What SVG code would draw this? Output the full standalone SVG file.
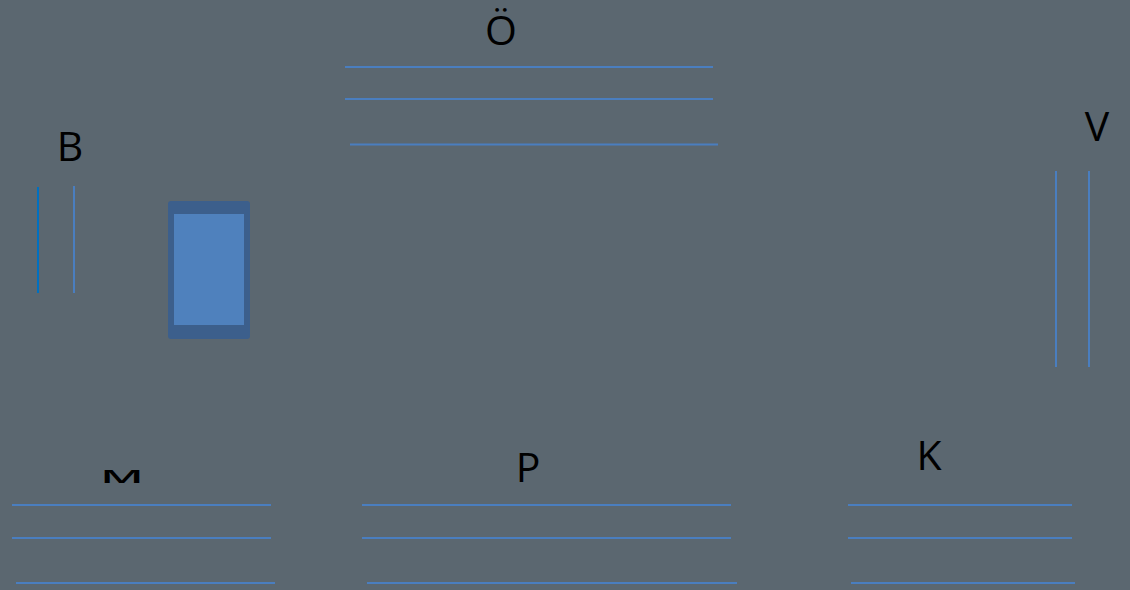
<svg xmlns="http://www.w3.org/2000/svg" width="1130" height="590" viewBox="0 0 1130 590">
  <style>
    .ln { stroke: #4a7ebf; stroke-width: 2; fill: none; }
    .lbl { font-family: "Open Sans", "Noto Sans", "Liberation Sans", sans-serif; font-size: 41px; fill: #000000; text-anchor: middle; }
  </style>
  <rect x="0" y="0" width="1130" height="590" fill="#5b6770"/>
  <g id="node-O">
    <text class="lbl" x="501" y="45">Ö</text>
    <line class="ln" x1="345" y1="67" x2="713" y2="67"/>
    <line class="ln" x1="345" y1="99" x2="713" y2="99"/>
    <line class="ln" x1="350" y1="144.5" x2="718" y2="144.5"/>
  </g>
  <g id="node-B">
    <text class="lbl" x="70" y="161">B</text>
    <line x1="38" y1="187" x2="38" y2="293" stroke="#0070c0" stroke-width="2"/>
    <line class="ln" x1="74" y1="186" x2="74" y2="293"/>
  </g>
  <g id="node-rect">
    <rect x="168" y="201" width="82" height="138" rx="3" fill="#3c5f8c"/>
    <rect x="174" y="214" width="70" height="111" fill="#4f81bd"/>
  </g>
  <g id="node-V">
    <text class="lbl" x="1097" y="141">V</text>
    <line class="ln" x1="1056" y1="171" x2="1056" y2="367"/>
    <line class="ln" x1="1089" y1="171" x2="1089" y2="367"/>
  </g>
  <g id="node-M">
    <text class="lbl" transform="translate(122,483) scale(1.15,0.45)" x="0" y="0" font-weight="600">M</text>
    <line class="ln" x1="12" y1="505" x2="271" y2="505"/>
    <line class="ln" x1="12" y1="538" x2="271" y2="538"/>
    <line class="ln" x1="16" y1="583" x2="275" y2="583"/>
  </g>
  <g id="node-P">
    <text class="lbl" x="528" y="482">P</text>
    <line class="ln" x1="362" y1="505" x2="731" y2="505"/>
    <line class="ln" x1="362" y1="538" x2="731" y2="538"/>
    <line class="ln" x1="367" y1="583" x2="737" y2="583"/>
  </g>
  <g id="node-K">
    <text class="lbl" x="929" y="470">K</text>
    <line class="ln" x1="848" y1="505" x2="1072" y2="505"/>
    <line class="ln" x1="848" y1="538" x2="1072" y2="538"/>
    <line class="ln" x1="851" y1="583" x2="1075" y2="583"/>
  </g>
  <g id="connectors"></g>
</svg>
